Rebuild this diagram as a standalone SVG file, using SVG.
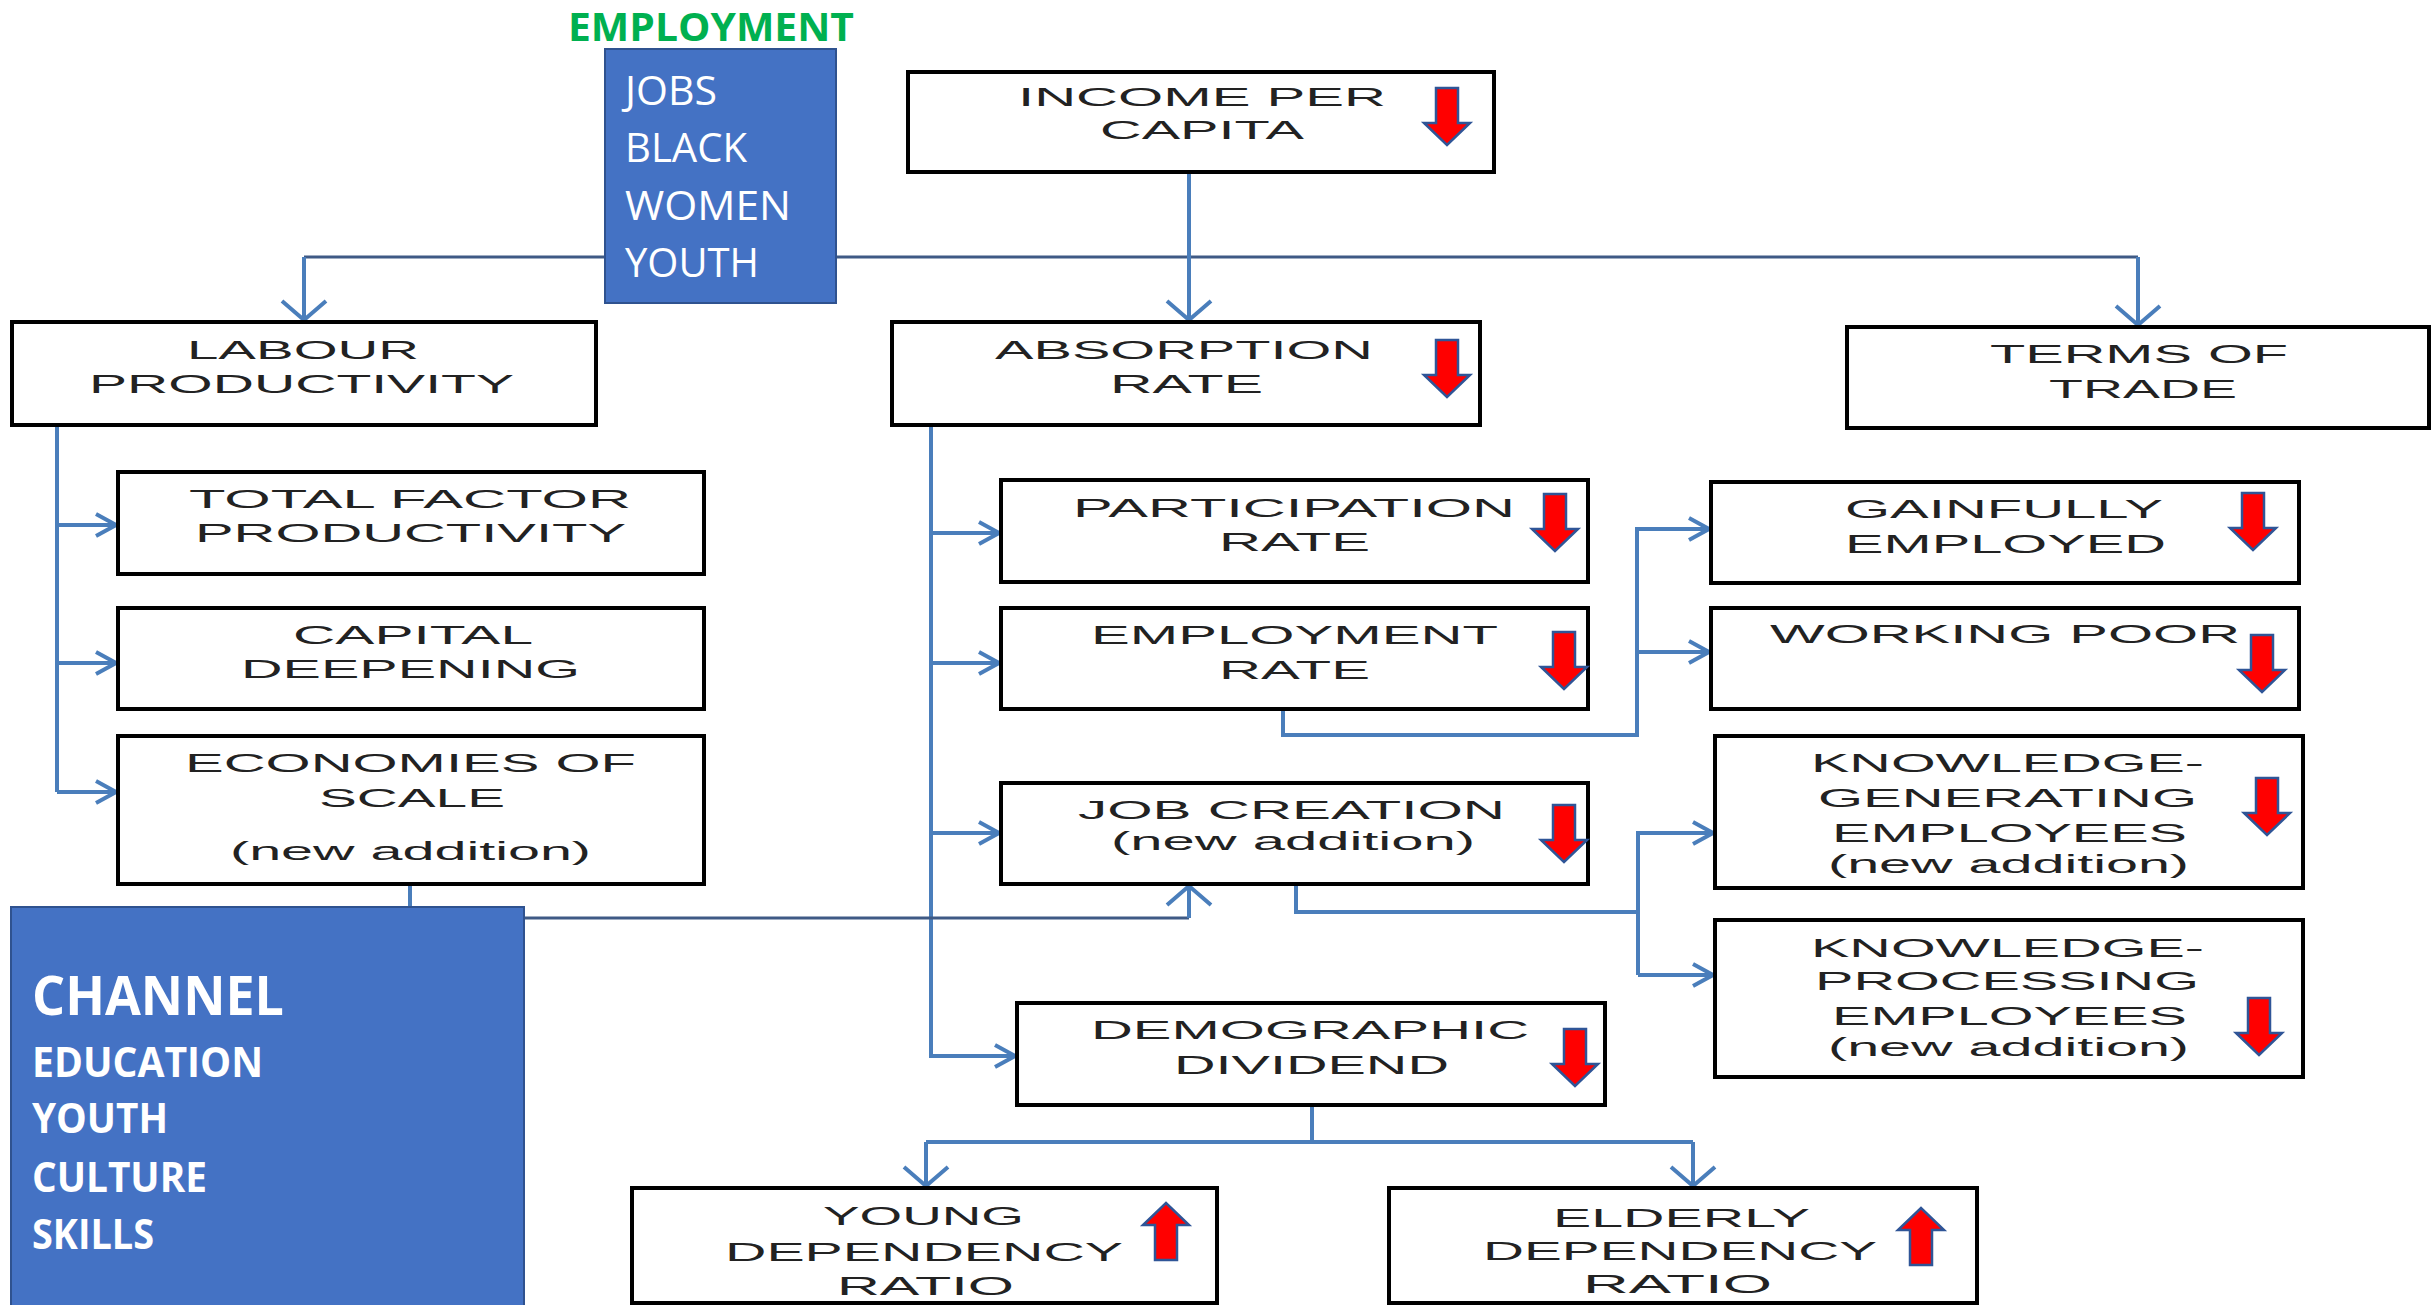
<svg xmlns="http://www.w3.org/2000/svg" width="2433" height="1305" viewBox="0 0 2433 1305">
<style>
.bg{fill:#ffffff}
.box{fill:#ffffff;stroke:#000000;stroke-width:4}
.blue{fill:#4472C4;stroke:#2F528F;stroke-width:2}
.t{font-family:'Liberation Sans',Arial,sans-serif;font-size:25px;fill:#222222}
.w{font-family:'Open Sans','Liberation Sans',sans-serif;fill:#ffffff}
.conn{fill:none;stroke:#4A7EBB;stroke-width:4}
.thin{fill:none;stroke:#3F5A85;stroke-width:3}
.red{fill:#FF0000;stroke:#2F5597;stroke-width:2.5;stroke-linejoin:miter}
.mk{fill:none;stroke:#4A7EBB;stroke-width:4}
</style>
<defs>
<marker id="ah" markerUnits="userSpaceOnUse" viewBox="-24 -14 26 28" refX="0" refY="0" markerWidth="26" markerHeight="28" orient="auto">
<path class="mk" d="M-20,-11 L0,0 L-20,11"/>
</marker>
<marker id="av" markerUnits="userSpaceOnUse" viewBox="-24 -26 26 52" refX="0" refY="0" markerWidth="26" markerHeight="52" orient="auto">
<path class="mk" d="M-19,-22 L0,0 L-19,22"/>
</marker>
<path id="down" class="red" d="M-11,0 H11 V35 H23 L0,57 L-23,35 H-11 Z"/>
<path id="up" class="red" d="M-11,57 H11 V22 H23 L0,0 L-23,22 H-11 Z"/>
</defs>
<rect class="bg" x="0" y="0" width="2433" height="1305"/>

<g id="connectors">
<path class="thin" d="M304,257 H2138"/>
<path class="conn" d="M304,257 V320" marker-end="url(#av)"/>
<path class="conn" d="M2138,257 V325" marker-end="url(#av)"/>
<path class="conn" d="M1189,172 V320" marker-end="url(#av)"/>
<path class="conn" d="M57,425 V792"/>
<path class="conn" d="M57,525 H116" marker-end="url(#ah)"/>
<path class="conn" d="M57,663 H116" marker-end="url(#ah)"/>
<path class="conn" d="M57,792 H116" marker-end="url(#ah)"/>
<path class="conn" d="M931,425 V1056 H1015" marker-end="url(#ah)"/>
<path class="conn" d="M931,533 H999" marker-end="url(#ah)"/>
<path class="conn" d="M931,663 H999" marker-end="url(#ah)"/>
<path class="conn" d="M931,833 H999" marker-end="url(#ah)"/>
<path class="conn" d="M1283,709 V735 H1637 V529 H1709" marker-end="url(#ah)"/>
<path class="conn" d="M1637,652 H1709" marker-end="url(#ah)"/>
<path class="conn" d="M1296,884 V912 H1638"/>
<path class="conn" d="M1638,975 V833 H1713" marker-end="url(#ah)"/>
<path class="conn" d="M1638,975 H1713" marker-end="url(#ah)"/>
<path class="conn" d="M410,884 V907"/>
<path class="thin" d="M524,918 H1189"/>
<path class="conn" d="M1189,918 V886" marker-end="url(#av)"/>
<path class="conn" d="M1312,1105 V1142"/>
<path class="conn" d="M926,1142 H1693"/>
<path class="conn" d="M926,1142 V1186" marker-end="url(#av)"/>
<path class="conn" d="M1693,1142 V1186" marker-end="url(#av)"/>
</g>

<g id="employment">
<text x="568" y="41" font-family="'Open Sans','Liberation Sans',sans-serif" font-weight="700" font-size="40" fill="#00B050" textLength="286" lengthAdjust="spacingAndGlyphs">EMPLOYMENT</text>
<rect class="blue" x="605" y="49" width="231" height="254"/>
<text class="w" x="625" y="105" font-size="41" textLength="92" lengthAdjust="spacingAndGlyphs">JOBS</text>
<text class="w" x="625" y="162" font-size="41" textLength="122" lengthAdjust="spacingAndGlyphs">BLACK</text>
<text class="w" x="625" y="220" font-size="41" textLength="166" lengthAdjust="spacingAndGlyphs">WOMEN</text>
<text class="w" x="625" y="277" font-size="41" textLength="134" lengthAdjust="spacingAndGlyphs">YOUTH</text>
</g>

<g id="channel">
<rect class="blue" x="11" y="907" width="513" height="405"/>
<text class="w" x="32" y="1015" font-size="53" font-weight="700" textLength="252" lengthAdjust="spacingAndGlyphs">CHANNEL</text>
<text class="w" x="32" y="1077" font-size="42" font-weight="700" textLength="231" lengthAdjust="spacingAndGlyphs">EDUCATION</text>
<text class="w" x="32" y="1133" font-size="42" font-weight="700" textLength="136" lengthAdjust="spacingAndGlyphs">YOUTH</text>
<text class="w" x="32" y="1192" font-size="42" font-weight="700" textLength="175" lengthAdjust="spacingAndGlyphs">CULTURE</text>
<text class="w" x="32" y="1249" font-size="42" font-weight="700" textLength="122" lengthAdjust="spacingAndGlyphs">SKILLS</text>
</g>

<g id="income">
<rect class="box" x="908" y="72" width="586" height="100"/>
<text class="t" x="1018" y="106" textLength="368" lengthAdjust="spacingAndGlyphs">INCOME PER</text>
<text class="t" x="1100" y="139" textLength="204" lengthAdjust="spacingAndGlyphs">CAPITA</text>
<use href="#down" x="1447" y="88"/>
</g>

<g id="labour">
<rect class="box" x="12" y="322" width="584" height="103"/>
<text class="t" x="187" y="359" textLength="232" lengthAdjust="spacingAndGlyphs">LABOUR</text>
<text class="t" x="89" y="393" textLength="425" lengthAdjust="spacingAndGlyphs">PRODUCTIVITY</text>
</g>

<g id="absorption">
<rect class="box" x="892" y="322" width="588" height="103"/>
<text class="t" x="995" y="359" textLength="378" lengthAdjust="spacingAndGlyphs">ABSORPTION</text>
<text class="t" x="1110" y="393" textLength="153" lengthAdjust="spacingAndGlyphs">RATE</text>
<use href="#down" x="1447" y="340"/>
</g>

<g id="terms">
<rect class="box" x="1847" y="327" width="582" height="101"/>
<text class="t" x="1990" y="363" textLength="298" lengthAdjust="spacingAndGlyphs">TERMS OF</text>
<text class="t" x="2049" y="398" textLength="188" lengthAdjust="spacingAndGlyphs">TRADE</text>
</g>

<g id="tfp">
<rect class="box" x="118" y="472" width="586" height="102"/>
<text class="t" x="189" y="508" textLength="442" lengthAdjust="spacingAndGlyphs">TOTAL FACTOR</text>
<text class="t" x="195" y="542" textLength="431" lengthAdjust="spacingAndGlyphs">PRODUCTIVITY</text>
</g>

<g id="capital">
<rect class="box" x="118" y="608" width="586" height="101"/>
<text class="t" x="293" y="644" textLength="240" lengthAdjust="spacingAndGlyphs">CAPITAL</text>
<text class="t" x="241" y="678" textLength="339" lengthAdjust="spacingAndGlyphs">DEEPENING</text>
</g>

<g id="economies">
<rect class="box" x="118" y="736" width="586" height="148"/>
<text class="t" x="185" y="772" textLength="451" lengthAdjust="spacingAndGlyphs">ECONOMIES OF</text>
<text class="t" x="319" y="807" textLength="186" lengthAdjust="spacingAndGlyphs">SCALE</text>
<text class="t" x="230" y="860" textLength="361" lengthAdjust="spacingAndGlyphs">(new addition)</text>
</g>

<g id="participation">
<rect class="box" x="1001" y="480" width="587" height="102"/>
<text class="t" x="1073" y="517" textLength="442" lengthAdjust="spacingAndGlyphs">PARTICIPATION</text>
<text class="t" x="1219" y="551" textLength="151" lengthAdjust="spacingAndGlyphs">RATE</text>
<use href="#down" x="1555" y="494"/>
</g>

<g id="employment-rate">
<rect class="box" x="1001" y="608" width="587" height="101"/>
<text class="t" x="1091" y="644" textLength="407" lengthAdjust="spacingAndGlyphs">EMPLOYMENT</text>
<text class="t" x="1219" y="679" textLength="151" lengthAdjust="spacingAndGlyphs">RATE</text>
<use href="#down" x="1564" y="632"/>
</g>

<g id="job-creation">
<rect class="box" x="1001" y="783" width="587" height="101"/>
<text class="t" x="1078" y="819" textLength="427" lengthAdjust="spacingAndGlyphs">JOB CREATION</text>
<text class="t" x="1111" y="850" textLength="364" lengthAdjust="spacingAndGlyphs">(new addition)</text>
<use href="#down" x="1564" y="805"/>
</g>

<g id="gainfully">
<rect class="box" x="1711" y="482" width="588" height="101"/>
<text class="t" x="1845" y="518" textLength="318" lengthAdjust="spacingAndGlyphs">GAINFULLY</text>
<text class="t" x="1845" y="553" textLength="321" lengthAdjust="spacingAndGlyphs">EMPLOYED</text>
<use href="#down" x="2253" y="493"/>
</g>

<g id="working-poor">
<rect class="box" x="1711" y="608" width="588" height="101"/>
<text class="t" x="1770" y="643" textLength="470" lengthAdjust="spacingAndGlyphs">WORKING POOR</text>
<use href="#down" x="2262" y="635"/>
</g>

<g id="knowledge-generating">
<rect class="box" x="1715" y="736" width="588" height="152"/>
<text class="t" x="1811" y="772" textLength="393" lengthAdjust="spacingAndGlyphs">KNOWLEDGE-</text>
<text class="t" x="1818" y="807" textLength="379" lengthAdjust="spacingAndGlyphs">GENERATING</text>
<text class="t" x="1832" y="842" textLength="355" lengthAdjust="spacingAndGlyphs">EMPLOYEES</text>
<text class="t" x="1828" y="873" textLength="361" lengthAdjust="spacingAndGlyphs">(new addition)</text>
<use href="#down" x="2267" y="778"/>
</g>

<g id="knowledge-processing">
<rect class="box" x="1715" y="920" width="588" height="157"/>
<text class="t" x="1811" y="957" textLength="393" lengthAdjust="spacingAndGlyphs">KNOWLEDGE-</text>
<text class="t" x="1815" y="990" textLength="384" lengthAdjust="spacingAndGlyphs">PROCESSING</text>
<text class="t" x="1832" y="1025" textLength="355" lengthAdjust="spacingAndGlyphs">EMPLOYEES</text>
<text class="t" x="1828" y="1056" textLength="361" lengthAdjust="spacingAndGlyphs">(new addition)</text>
<use href="#down" x="2259" y="998"/>
</g>

<g id="demographic">
<rect class="box" x="1017" y="1003" width="588" height="102"/>
<text class="t" x="1091" y="1039" textLength="438" lengthAdjust="spacingAndGlyphs">DEMOGRAPHIC</text>
<text class="t" x="1174" y="1074" textLength="275" lengthAdjust="spacingAndGlyphs">DIVIDEND</text>
<use href="#down" x="1575" y="1029"/>
</g>

<g id="young">
<rect class="box" x="632" y="1188" width="585" height="115"/>
<text class="t" x="823" y="1225" textLength="201" lengthAdjust="spacingAndGlyphs">YOUNG</text>
<text class="t" x="725" y="1261" textLength="398" lengthAdjust="spacingAndGlyphs">DEPENDENCY</text>
<text class="t" x="837" y="1295" textLength="177" lengthAdjust="spacingAndGlyphs">RATIO</text>
<use href="#up" x="1166" y="1203"/>
</g>

<g id="elderly">
<rect class="box" x="1389" y="1188" width="588" height="115"/>
<text class="t" x="1553" y="1227" textLength="257" lengthAdjust="spacingAndGlyphs">ELDERLY</text>
<text class="t" x="1483" y="1260" textLength="394" lengthAdjust="spacingAndGlyphs">DEPENDENCY</text>
<text class="t" x="1583" y="1293" textLength="189" lengthAdjust="spacingAndGlyphs">RATIO</text>
<use href="#up" x="1921" y="1208"/>
</g>
</svg>
